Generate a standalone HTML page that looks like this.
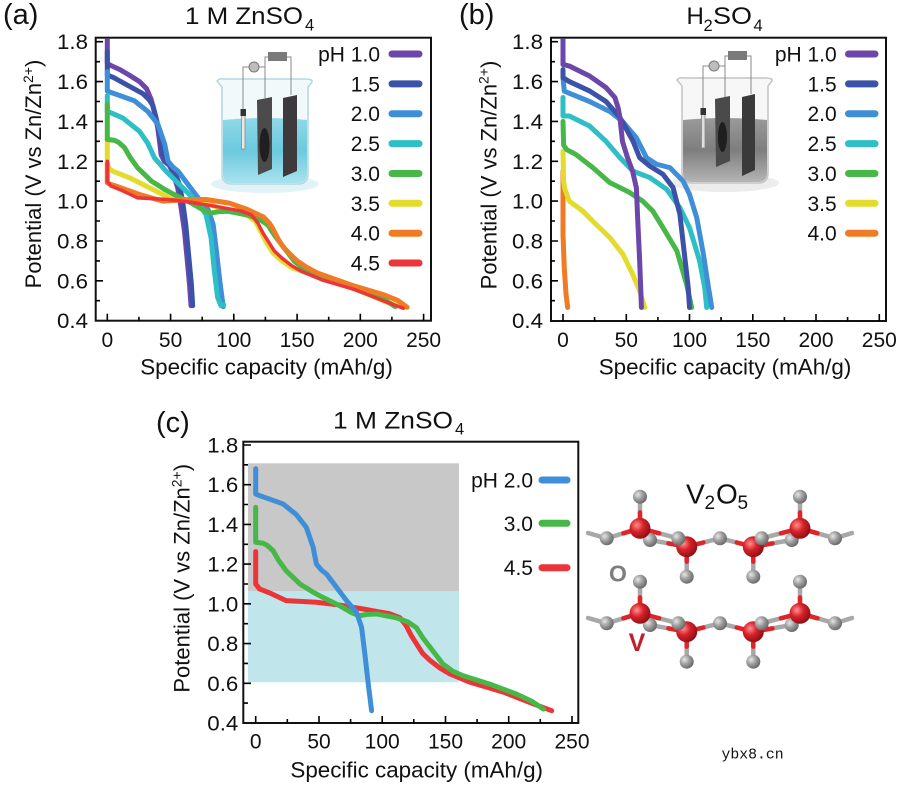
<!DOCTYPE html>
<html><head><meta charset="utf-8"><style>
html,body{margin:0;padding:0;background:#fff;}
svg{display:block;font-family:"Liberation Sans",Arial,sans-serif;}
.c{fill:none;stroke-width:5;stroke-linejoin:round;stroke-linecap:round;vector-effect:non-scaling-stroke;}
.tk{stroke:#000;stroke-width:1.6;fill:none;}
.fr{fill:none;stroke:#111;stroke-width:2;}
.tl{font-size:21px;fill:#111;}
.lg{font-size:21px;fill:#111;}
.bd{stroke-width:4.5;stroke-linecap:round;}
</style></head><body>
<svg width="900" height="785" viewBox="0 0 900 785" xmlns="http://www.w3.org/2000/svg">
<defs>
<clipPath id="ca"><rect x="97" y="38.7" width="333" height="281"/></clipPath>
<clipPath id="cb"><rect x="552" y="38.7" width="333" height="281"/></clipPath>
<clipPath id="cc"><rect x="244.3" y="442.7" width="333" height="279.5"/></clipPath>
<linearGradient id="liqA" x1="0" y1="0" x2="0" y2="1"><stop offset="0" stop-color="#8fd9e8"/><stop offset="0.5" stop-color="#6cc9de"/><stop offset="1" stop-color="#a9e2ee"/></linearGradient>
<linearGradient id="liqB" x1="0" y1="0" x2="0" y2="1"><stop offset="0" stop-color="#9a9a9a"/><stop offset="0.5" stop-color="#7e7e7e"/><stop offset="1" stop-color="#b4b4b4"/></linearGradient>
<radialGradient id="gO" cx="0.35" cy="0.35" r="0.7"><stop offset="0" stop-color="#e6e6e6"/><stop offset="0.5" stop-color="#9c9c9c"/><stop offset="1" stop-color="#666"/></radialGradient>
<radialGradient id="gV" cx="0.35" cy="0.35" r="0.7"><stop offset="0" stop-color="#ff9090"/><stop offset="0.45" stop-color="#d8222a"/><stop offset="1" stop-color="#8a0f14"/></radialGradient>
</defs>

<!-- ================= PANEL (a) ================= -->
<text x="3" y="24" font-size="29" fill="#111">(a)</text>
<text x="185" y="24" font-size="24" fill="#111" textLength="118" lengthAdjust="spacingAndGlyphs">1 M ZnSO</text>
<text x="305" y="30.5" font-size="16.5" fill="#111">4</text>

<!-- beaker a -->
<g transform="translate(217,50)">
 <ellipse cx="48" cy="134" rx="54" ry="9" fill="#e2f3f7"/>
 <path d="M0,31 Q2,28 8,29 L88,29 Q96,29 95,32 L91,37 L91,124 Q91,134 81,134 L15,134 Q5,134 5,124 L5,37 Z" fill="#f1f9fb" stroke="#b3d8e2" stroke-width="1.5"/>
 <path d="M6,70 Q48,66 90,70 L90,124 Q90,133 81,133 L15,133 Q6,133 6,124 Z" fill="url(#liqA)"/>
 <path d="M26,60 V17 H32 M42,17 H48 V48 M51,7 H48 V17 M70,7 H74 V45" stroke="#8a8a8a" stroke-width="1" fill="none"/>
 <circle cx="37" cy="17" r="5" fill="#bdbdbd" stroke="#7a7a7a" stroke-width="1"/>
 <rect x="51" y="2" width="19" height="9" fill="#7a7a7a"/>
 <rect x="24.5" y="63" width="3.5" height="36" fill="#e8e8e8" stroke="#888" stroke-width="0.8"/>
 <rect x="23.5" y="59" width="5.5" height="7" fill="#333"/>
 <polygon points="40,50 55,47 55,119 41,125" fill="#4b4b4b"/>
 <ellipse cx="47.5" cy="95" rx="5" ry="17" fill="#1f1f1f"/>
 <polygon points="66,48 80,45 80,121 66,127" fill="#3d393c"/>
</g>

<rect x="95.7" y="37.7" width="335.3" height="283" class="fr"/>
<path class="tk" d="M96,280.8h7M96,241h7M96,201.1h7M96,161.3h7M96,121.4h7M96,81.6h7M96,41.7h7M96,300.7h4M96,260.9h4M96,221h4M96,181.2h4M96,141.3h4M96,101.5h4M96,61.7h4
M107.3,320.7v-7M170.6,320.7v-7M233.8,320.7v-7M297.1,320.7v-7M360.3,320.7v-7M423.6,320.7v-7M138.9,320.7v-4M202.2,320.7v-4M265.4,320.7v-4M328.7,320.7v-4M391.9,320.7v-4"/>
<g class="tl" text-anchor="end">
<text x="88" y="49.2" textLength="31" lengthAdjust="spacingAndGlyphs">1.8</text><text x="88" y="89.1" textLength="31" lengthAdjust="spacingAndGlyphs">1.6</text><text x="88" y="128.9" textLength="31" lengthAdjust="spacingAndGlyphs">1.4</text><text x="88" y="168.8" textLength="31" lengthAdjust="spacingAndGlyphs">1.2</text><text x="88" y="208.6" textLength="31" lengthAdjust="spacingAndGlyphs">1.0</text><text x="88" y="248.5" textLength="31" lengthAdjust="spacingAndGlyphs">0.8</text><text x="88" y="288.3" textLength="31" lengthAdjust="spacingAndGlyphs">0.6</text><text x="88" y="328.1" textLength="31" lengthAdjust="spacingAndGlyphs">0.4</text>
</g>
<g class="tl" text-anchor="middle">
<text x="107.3" y="347">0</text><text x="170.6" y="347">50</text><text x="233.8" y="347">100</text><text x="297.1" y="347">150</text><text x="360.3" y="347">200</text><text x="423.6" y="347">250</text>
</g>
<text x="266.5" y="374.5" font-size="22.4" text-anchor="middle" fill="#111">Specific capacity (mAh/g)</text>
<text transform="translate(41,174) rotate(-90)" text-anchor="middle" font-size="22" fill="#111">Potential (V vs Zn/Zn<tspan font-size="14" dy="-8">2+</tspan><tspan dy="8">)</tspan></text>

<g clip-path="url(#ca)">
<g transform="translate(107.3,400.3) scale(1.265,-199.2)">
<path class="c" stroke="#6b46ab" d="M0,1.84 L0,1.69 L3,1.68 L10,1.66 L18,1.63 L25.5,1.6 L31,1.565 L34.7,1.51 L37.5,1.44 L39.9,1.367 L41.5,1.29 L42.5,1.233 L45,1.2 L49,1.18 L52,1.14 L55.6,1.067 L58,0.98 L61,0.85 L63.5,0.683 L65,0.58 L66.2,0.475"/>
<path class="c" stroke="#3b52a8" d="M0,1.75 L0,1.633 L5,1.62 L15,1.585 L28,1.54 L33,1.51 L36,1.48 L38.5,1.42 L41,1.35 L43.8,1.233 L46,1.205 L50,1.18 L54,1.135 L57,1.083 L59.5,1.0 L62,0.883 L65,0.683 L66.5,0.58 L67.5,0.475"/>
<path class="c" stroke="#3f8fd8" d="M0,1.65 L0,1.553 L3,1.545 L12,1.525 L21.6,1.503 L32,1.45 L37,1.41 L40,1.385 L43,1.33 L45.4,1.285 L48,1.2 L52,1.17 L56,1.15 L63.9,1.083 L71.8,1.016 L79.7,0.957 L83.7,0.882 L86.3,0.747 L89,0.596 L91.6,0.47"/>
<path class="c" stroke="#2dbec6" d="M0,1.53 L0,1.45 L4,1.44 L12.3,1.417 L25.5,1.35 L32,1.29 L37.3,1.217 L46.5,1.15 L59.6,1.067 L72.7,0.983 L78,0.933 L82,0.817 L84.6,0.65 L87.2,0.517 L89.8,0.475 L92,0.48"/>
<path class="c" stroke="#e3dc2c" d="M0,1.317 L0,1.183 L2,1.16 L4.4,1.15 L17.6,1.117 L33.3,1.067 L49,1.017 L64.9,1.0 L80.6,0.983 L96,0.95 L110,0.93 L117,0.9 L122,0.84 L126,0.79 L131,0.74 L138,0.7 L146,0.665 L158,0.64 L179,0.6 L205,0.535 L222,0.49 L234,0.467"/>
<path class="c" stroke="#47b748" d="M0,1.486 L0,1.31 L5.8,1.305 L9,1.295 L13.7,1.268 L18,1.22 L24,1.167 L35,1.1 L45,1.06 L53,1.033 L66.5,0.99 L76,0.955 L82,0.94 L88,0.947 L95.6,0.949 L111,0.93 L120,0.91 L127,0.88 L132,0.83 L138,0.78 L148,0.697 L156,0.66 L164,0.638 L185,0.596 L206,0.546 L218,0.51 L227.6,0.47"/>
<path class="c" stroke="#f07b25" d="M0,1.19 L0,1.092 L2,1.085 L7,1.075 L25.5,1.033 L43.8,1.0 L64.9,1.008 L78,1.008 L96.4,0.99 L110,0.96 L123.5,0.92 L128,0.89 L131,0.86 L135,0.81 L139,0.77 L145,0.73 L150,0.7 L157,0.67 L165.7,0.64 L192,0.58 L218.5,0.53 L230,0.5 L237,0.467"/>
<path class="c" stroke="#eb3539" style="stroke-width:3.5" d="M0,1.2 L0,1.1 L3,1.075 L11,1.055 L24,1.016 L48,1.008 L64,0.996 L85,0.974 L106,0.95 L114,0.93 L119,0.89 L123,0.84 L127,0.8 L132,0.75 L138,0.714 L146,0.675 L153.6,0.647 L169.5,0.605 L196,0.555 L219.6,0.496 L234,0.462"/>
</g>
</g>

<g class="lg" text-anchor="end">
<text x="380" y="61.5">pH 1.0</text><text x="380" y="91.4">1.5</text><text x="380" y="121.2">2.0</text><text x="380" y="151.1">2.5</text><text x="380" y="181">3.0</text><text x="380" y="210.8">3.5</text><text x="380" y="240.7">4.0</text><text x="380" y="270.5">4.5</text>
</g>
<g stroke-width="7" stroke-linecap="round">
<line x1="392" y1="54" x2="419" y2="54" stroke="#6b46ab"/>
<line x1="392" y1="83.9" x2="419" y2="83.9" stroke="#3b52a8"/>
<line x1="392" y1="113.7" x2="419" y2="113.7" stroke="#3f8fd8"/>
<line x1="392" y1="143.6" x2="419" y2="143.6" stroke="#2dbec6"/>
<line x1="392" y1="173.5" x2="419" y2="173.5" stroke="#47b748"/>
<line x1="392" y1="203.3" x2="419" y2="203.3" stroke="#e3dc2c"/>
<line x1="392" y1="233.2" x2="419" y2="233.2" stroke="#f07b25"/>
<line x1="392" y1="263" x2="419" y2="263" stroke="#eb3539"/>
</g>

<!-- ================= PANEL (b) ================= -->
<text x="459" y="24" font-size="29" fill="#111">(b)</text>
<text x="686.5" y="24" font-size="24" fill="#111">H</text>
<text x="703.5" y="31" font-size="16.5" fill="#111">2</text>
<text x="713" y="24" font-size="24" fill="#111" textLength="39" lengthAdjust="spacingAndGlyphs">SO</text>
<text x="753.5" y="31" font-size="16.5" fill="#111">4</text>

<!-- beaker b -->
<g transform="translate(677,49)">
 <ellipse cx="48" cy="134" rx="54" ry="9" fill="#ececec"/>
 <path d="M0,31 Q2,28 8,29 L88,29 Q96,29 95,32 L91,37 L91,124 Q91,134 81,134 L15,134 Q5,134 5,124 L5,37 Z" fill="#f7f7f7" stroke="#c4c4c4" stroke-width="1.5"/>
 <path d="M6,71 Q48,67 90,71 L90,124 Q90,133 81,133 L15,133 Q6,133 6,124 Z" fill="url(#liqB)"/>
 <path d="M26,60 V17 H32 M42,17 H48 V48 M51,7 H48 V17 M70,7 H74 V45" stroke="#8a8a8a" stroke-width="1" fill="none"/>
 <circle cx="37" cy="17" r="5" fill="#bdbdbd" stroke="#7a7a7a" stroke-width="1"/>
 <rect x="51" y="2" width="19" height="9" fill="#7a7a7a"/>
 <rect x="24.5" y="63" width="3.5" height="36" fill="#e0e0e0" stroke="#888" stroke-width="0.8"/>
 <rect x="23.5" y="59" width="5.5" height="7" fill="#333"/>
 <polygon points="38,50 53,47 53,112 39,118" fill="#4a4a4a"/>
 <ellipse cx="45.5" cy="88" rx="4.5" ry="15" fill="#1f1f1f"/>
 <polygon points="65,48 78,45 78,121 65,127" fill="#3a3a3a"/>
</g>

<rect x="551" y="37.7" width="335" height="283.3" class="fr"/>
<path class="tk" d="M551,280.8h7M551,241h7M551,201.1h7M551,161.3h7M551,121.4h7M551,81.6h7M551,41.7h7M551,300.7h4M551,260.9h4M551,221h4M551,181.2h4M551,141.3h4M551,101.5h4M551,61.7h4
M563,321v-7M626.3,321v-7M689.5,321v-7M752.8,321v-7M816,321v-7M879.3,321v-7M594.6,321v-4M657.9,321v-4M721.1,321v-4M784.4,321v-4M847.6,321v-4"/>
<g class="tl" text-anchor="end">
<text x="543" y="49.2" textLength="31" lengthAdjust="spacingAndGlyphs">1.8</text><text x="543" y="89.1" textLength="31" lengthAdjust="spacingAndGlyphs">1.6</text><text x="543" y="128.9" textLength="31" lengthAdjust="spacingAndGlyphs">1.4</text><text x="543" y="168.8" textLength="31" lengthAdjust="spacingAndGlyphs">1.2</text><text x="543" y="208.6" textLength="31" lengthAdjust="spacingAndGlyphs">1.0</text><text x="543" y="248.5" textLength="31" lengthAdjust="spacingAndGlyphs">0.8</text><text x="543" y="288.3" textLength="31" lengthAdjust="spacingAndGlyphs">0.6</text><text x="543" y="328.1" textLength="31" lengthAdjust="spacingAndGlyphs">0.4</text>
</g>
<g class="tl" text-anchor="middle">
<text x="563" y="347">0</text><text x="626.3" y="347">50</text><text x="689.5" y="347">100</text><text x="752.8" y="347">150</text><text x="816" y="347">200</text><text x="879.3" y="347">250</text>
</g>
<text x="725" y="374.5" font-size="22.4" text-anchor="middle" fill="#111">Specific capacity (mAh/g)</text>
<text transform="translate(496.5,175) rotate(-90)" text-anchor="middle" font-size="22" fill="#111">Potential (V vs Zn/Zn<tspan font-size="14" dy="-8">2+</tspan><tspan dy="8">)</tspan></text>

<g clip-path="url(#cb)">
<g transform="translate(563,400.3) scale(1.265,-199.2)">
<path class="c" stroke="#f07b25" d="M0,1.15 L0,0.833 L1,0.666 L2.4,0.532 L3.7,0.466"/>
<path class="c" stroke="#e3dc2c" d="M0,1.25 L0.5,1.1 L1.5,1.06 L5,1.0 L15.6,0.95 L26,0.884 L37,0.817 L47.4,0.733 L55,0.633 L60.6,0.55 L64.6,0.466"/>
<path class="c" stroke="#47b748" d="M0,1.4 L0.5,1.28 L3,1.258 L10,1.235 L23.6,1.168 L37,1.093 L52.7,1.043 L63,1.0 L71,0.95 L79,0.867 L90,0.75 L97.7,0.583 L101.7,0.466"/>
<path class="c" stroke="#2dbec6" d="M0,1.52 L0,1.427 L5,1.427 L21,1.377 L34,1.3 L45,1.218 L55.4,1.15 L68.6,1.118 L81.8,1.06 L92.4,0.967 L100,0.867 L108,0.7 L112,0.566 L113.6,0.466"/>
<path class="c" stroke="#3f8fd8" d="M0,1.62 L1,1.552 L21,1.5 L37,1.45 L47,1.4 L58,1.318 L66,1.218 L74,1.185 L84.5,1.168 L95,1.1 L100,1.034 L105.7,0.917 L111,0.733 L115,0.566 L117.6,0.466"/>
<path class="c" stroke="#3b52a8" d="M0,1.66 L0,1.62 L5,1.6 L21,1.553 L34,1.5 L45,1.42 L55.4,1.3 L60.6,1.218 L68.6,1.176 L79,1.135 L87,1.068 L92.4,0.934 L96,0.733 L99,0.566 L100,0.466"/>
<path class="c" stroke="#6b46ab" d="M0,1.84 L0,1.686 L5,1.678 L21,1.628 L34,1.57 L41,1.52 L43.5,1.47 L45,1.42 L47,1.3 L51,1.218 L55,1.15 L58,1.067 L59,0.917 L60.6,0.7 L62,0.466"/>
</g>
</g>

<g class="lg" text-anchor="end">
<text x="836.7" y="61.5">pH 1.0</text><text x="836.7" y="91.4">1.5</text><text x="836.7" y="121.2">2.0</text><text x="836.7" y="151.1">2.5</text><text x="836.7" y="181">3.0</text><text x="836.7" y="210.8">3.5</text><text x="836.7" y="240.7">4.0</text>
</g>
<g stroke-width="7" stroke-linecap="round">
<line x1="848.5" y1="54" x2="875" y2="54" stroke="#6b46ab"/>
<line x1="848.5" y1="83.9" x2="875" y2="83.9" stroke="#3b52a8"/>
<line x1="848.5" y1="113.7" x2="875" y2="113.7" stroke="#3f8fd8"/>
<line x1="848.5" y1="143.6" x2="875" y2="143.6" stroke="#2dbec6"/>
<line x1="848.5" y1="173.5" x2="875" y2="173.5" stroke="#47b748"/>
<line x1="848.5" y1="203.3" x2="875" y2="203.3" stroke="#e3dc2c"/>
<line x1="848.5" y1="233.2" x2="875" y2="233.2" stroke="#f07b25"/>
</g>

<!-- ================= PANEL (c) ================= -->
<text x="156" y="432" font-size="29" fill="#111">(c)</text>
<text x="333" y="428.3" font-size="24" fill="#111" textLength="120" lengthAdjust="spacingAndGlyphs">1 M ZnSO</text>
<text x="455" y="434.5" font-size="16.5" fill="#111">4</text>

<rect x="248" y="463.3" width="211" height="127.7" fill="#c8c8c8"/>
<rect x="248" y="591" width="211" height="91.3" fill="#c0e6eb"/>

<g clip-path="url(#cc)">
<g transform="translate(255.7,802.44) scale(1.265,-198.6)">
<path class="c" stroke="#eb3539" d="M0,1.263 L0,1.1 L3,1.075 L11,1.055 L24,1.016 L48,1.008 L64,0.996 L85,0.974 L106,0.95 L114,0.93 L119,0.89 L123,0.84 L127,0.8 L132,0.75 L138,0.714 L146,0.675 L153.6,0.647 L169.5,0.605 L196,0.555 L219.6,0.496 L234,0.462"/>
<path class="c" stroke="#47b748" d="M0,1.486 L0,1.31 L5.8,1.305 L9,1.295 L13.7,1.268 L18,1.22 L24,1.167 L35,1.1 L45,1.06 L53,1.033 L66.5,0.99 L76,0.955 L82,0.94 L88,0.947 L95.6,0.949 L111,0.93 L120,0.91 L127,0.88 L132,0.83 L138,0.78 L148,0.697 L156,0.66 L164,0.638 L185,0.596 L206,0.546 L218,0.51 L227.6,0.47"/>
<path class="c" stroke="#3f8fd8" d="M0,1.68 L0,1.553 L3,1.545 L12,1.525 L21.6,1.503 L32,1.45 L37,1.41 L40,1.385 L43,1.33 L45.4,1.285 L48,1.2 L52,1.17 L56,1.15 L63.9,1.083 L71.8,1.016 L79.7,0.957 L83.7,0.882 L86.3,0.747 L89,0.596 L91.6,0.462"/>
</g>
</g>

<rect x="243.3" y="441.7" width="335" height="281.3" class="fr"/>
<path class="tk" d="M244,683.3h7M244,643.6h7M244,603.8h7M244,564.1h7M244,524.4h7M244,484.7h7M244,445h7M244,703.1h4M244,663.4h4M244,623.7h4M244,584h4M244,544.3h4M244,504.5h4M244,464.8h4
M255.7,723v-7M319,723v-7M382.2,723v-7M445.5,723v-7M508.7,723v-7M572,723v-7M287.3,723v-4M350.6,723v-4M413.8,723v-4M477.1,723v-4M540.3,723v-4"/>
<g class="tl" text-anchor="end">
<text x="238.3" y="452.5" textLength="31" lengthAdjust="spacingAndGlyphs">1.8</text><text x="238.3" y="492.2" textLength="31" lengthAdjust="spacingAndGlyphs">1.6</text><text x="238.3" y="531.9" textLength="31" lengthAdjust="spacingAndGlyphs">1.4</text><text x="238.3" y="571.6" textLength="31" lengthAdjust="spacingAndGlyphs">1.2</text><text x="238.3" y="611.3" textLength="31" lengthAdjust="spacingAndGlyphs">1.0</text><text x="238.3" y="651.1" textLength="31" lengthAdjust="spacingAndGlyphs">0.8</text><text x="238.3" y="690.8" textLength="31" lengthAdjust="spacingAndGlyphs">0.6</text><text x="238.3" y="730.5" textLength="31" lengthAdjust="spacingAndGlyphs">0.4</text>
</g>
<g class="tl" text-anchor="middle">
<text x="255.7" y="748.3">0</text><text x="319" y="748.3">50</text><text x="382.2" y="748.3">100</text><text x="445.5" y="748.3">150</text><text x="508.7" y="748.3">200</text><text x="572" y="748.3">250</text>
</g>
<text x="416.7" y="777.5" font-size="22.4" text-anchor="middle" fill="#111">Specific capacity (mAh/g)</text>
<text transform="translate(189.5,578.3) rotate(-90)" text-anchor="middle" font-size="22" fill="#111">Potential (V vs Zn/Zn<tspan font-size="14" dy="-8">2+</tspan><tspan dy="8">)</tspan></text>

<g class="lg" text-anchor="end">
<text x="533" y="487.5">pH 2.0</text><text x="533" y="530.8">3.0</text><text x="533" y="575.2">4.5</text>
</g>
<g stroke-width="7" stroke-linecap="round">
<line x1="542" y1="480" x2="567" y2="480" stroke="#3f8fd8"/>
<line x1="542" y1="523.3" x2="567" y2="523.3" stroke="#47b748"/>
<line x1="542" y1="567.7" x2="567" y2="567.7" stroke="#eb3539"/>
</g>

<!-- ================= V2O5 structure ================= -->
<text x="686" y="503.3" font-size="28" fill="#111">V</text>
<text x="704.5" y="509" font-size="19" fill="#111">2</text>
<text x="716" y="503.3" font-size="28" fill="#111">O</text>
<text x="737.5" y="509" font-size="19" fill="#111">5</text>

<g id="layer1">
 <g class="bd" stroke="#a8a8a8">
  <line x1="640" y1="528.3" x2="640" y2="496.7"/>
  <line x1="640" y1="528.3" x2="606.7" y2="538.3"/>
  <line x1="606.7" y1="538.3" x2="588" y2="533"/>
  <line x1="640" y1="528.3" x2="678.3" y2="538.3"/>
  <line x1="650" y1="540" x2="686.7" y2="546.7"/>
  <line x1="686.7" y1="546.7" x2="686.7" y2="576.7"/>
  <line x1="686.7" y1="546.7" x2="720" y2="538.3"/>
  <line x1="720" y1="538.3" x2="753.3" y2="546.7"/>
  <line x1="753.3" y1="546.7" x2="753.3" y2="576.7"/>
  <line x1="753.3" y1="546.7" x2="791.7" y2="540"/>
  <line x1="761.7" y1="538.3" x2="800" y2="528.3"/>
  <line x1="800" y1="528.3" x2="800" y2="496.7"/>
  <line x1="800" y1="528.3" x2="835" y2="538.3"/>
  <line x1="835" y1="538.3" x2="852" y2="533"/>
 </g>
 <g class="bd" stroke="#e0242a">
  <line x1="640" y1="528.3" x2="640" y2="512.5"/>
  <line x1="640" y1="528.3" x2="623.4" y2="533.3"/>
  <line x1="640" y1="528.3" x2="659.2" y2="533.3"/>
  <line x1="686.7" y1="546.7" x2="668.4" y2="543.4"/>
  <line x1="686.7" y1="546.7" x2="686.7" y2="561.7"/>
  <line x1="686.7" y1="546.7" x2="703.4" y2="542.5"/>
  <line x1="753.3" y1="546.7" x2="736.7" y2="542.5"/>
  <line x1="753.3" y1="546.7" x2="753.3" y2="561.7"/>
  <line x1="753.3" y1="546.7" x2="772.5" y2="543.4"/>
  <line x1="800" y1="528.3" x2="780.9" y2="533.3"/>
  <line x1="800" y1="528.3" x2="800" y2="512.5"/>
  <line x1="800" y1="528.3" x2="817.5" y2="533.3"/>
 </g>
 <circle cx="650" cy="540" r="7" fill="url(#gO)"/>
 <circle cx="791.7" cy="540" r="7" fill="url(#gO)"/>
 <circle cx="640" cy="528.3" r="10.5" fill="url(#gV)"/>
 <circle cx="800" cy="528.3" r="10.5" fill="url(#gV)"/>
 <circle cx="686.7" cy="546.7" r="10.5" fill="url(#gV)"/>
 <circle cx="753.3" cy="546.7" r="10.5" fill="url(#gV)"/>
 <circle cx="678.3" cy="538.3" r="7" fill="url(#gO)"/>
 <circle cx="761.7" cy="538.3" r="7" fill="url(#gO)"/>
 <circle cx="640" cy="496.7" r="7" fill="url(#gO)"/>
 <circle cx="800" cy="496.7" r="7" fill="url(#gO)"/>
 <circle cx="606.7" cy="538.3" r="7" fill="url(#gO)"/>
 <circle cx="720" cy="538.3" r="7" fill="url(#gO)"/>
 <circle cx="835" cy="538.3" r="7" fill="url(#gO)"/>
 <circle cx="686.7" cy="576.7" r="7" fill="url(#gO)"/>
 <circle cx="753.3" cy="576.7" r="7" fill="url(#gO)"/>
</g>
<use href="#layer1" transform="translate(0,85)"/>

<text x="618" y="581.5" font-size="23" fill="#7d7d7d" text-anchor="middle" font-weight="bold">O</text>
<text x="637" y="651" font-size="25" fill="#c21f2e" text-anchor="middle" font-weight="bold">V</text>

<text x="721.5" y="758.5" font-size="14.8" fill="#111" font-family="Liberation Mono, monospace">ybx8.cn</text>
</svg>
</body></html>
